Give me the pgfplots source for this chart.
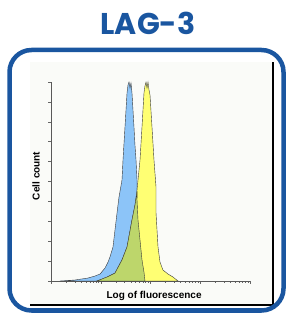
\documentclass[border=0pt]{standalone}
\usepackage{pgfplots}
\pgfplotsset{compat=1.18}
\usepackage{fontspec}
\setmainfont{Liberation Sans}
\newfontfamily\poppins{Poppins}
\definecolor{lagblue}{HTML}{1A56A0}
\definecolor{histblue}{HTML}{8CC4F8}
\definecolor{histyellow}{HTML}{FFFF73}
\definecolor{histgreen}{HTML}{BDD66B}
\definecolor{histline}{HTML}{3A3A3A}
\definecolor{panelbg}{HTML}{FAFBF8}
\begin{document}
\begin{tikzpicture}[x=1pt,y=1pt]
\path[use as bounding box] (0,0) rectangle (286,313);
% panel background
\fill[panelbg] (30,8) rectangle (273,251);
\draw[black, line width=1.4pt] (30,8) -- (274,8);
\draw[black, line width=1.2pt] (273,8) -- (273,251);
% title
\node[anchor=base, text=lagblue, font=\poppins\bfseries\fontsize{30}{30}\selectfont] at (148,278) {LAG-3};
\begin{axis}[
  at={(51pt,32pt)}, anchor=south west,
  scale only axis, width=199pt, height=199pt,
  xmin=0, xmax=4, ymin=0, ymax=100,
  axis x line*=bottom, axis y line*=left,
  axis line style={draw=black!65, line width=0.5pt, -},
  xtick={0,1,2,3,4},
  minor xtick={0.301,0.477,0.602,0.699,0.778,0.845,0.903,0.954,
               1.301,1.477,1.602,1.699,1.778,1.845,1.903,1.954,
               2.301,2.477,2.602,2.699,2.778,2.845,2.903,2.954,
               3.301,3.477,3.602,3.699,3.778,3.845,3.903,3.954},
  ytick={0,10,...,100},
  xticklabels={}, yticklabels={},
  tick align=outside,
  major tick length=3pt, minor tick length=2pt,
  tick style={draw=black!60, line width=0.4pt},
  xlabel={\bfseries Log of fluorescence},
  ylabel={\bfseries Cell count},
  label style={font=\fontsize{10}{12}\selectfont},
  xlabel style={at={(axis description cs:0.518,0)}, anchor=center, yshift=-15pt},
  ylabel style={at={(axis description cs:0,0.528)}, anchor=center, xshift=0pt, yshift=15pt},
  clip=false,
]
% isotype control (blue)
\addplot[fill=histblue, draw=histline, line width=0.4pt] coordinates {
(0.181,0) (0.482,0.5) (0.744,1.5) (0.884,2.5) (0.985,3.5) (1.085,6.5) (1.146,9.5)
(1.186,12.1) (1.246,17.1) (1.286,25.6) (1.327,34.2) (1.367,42.2) (1.427,50.8)
(1.447,60.8) (1.487,77.4) (1.528,94.5) (1.548,98.5) (1.568,100) (1.588,97.0)
(1.608,99.5) (1.628,94.5) (1.648,85.9) (1.668,77.4) (1.688,68.3) (1.709,60.8)
(1.729,50.8) (1.729,47.2) (1.729,40.7) (1.749,30.7) (1.789,20.6) (1.829,10.6)
(1.869,4.5) (1.889,0)
} -- cycle;
% LAG-3 stained (yellow)
\addplot[fill=histyellow, draw=histline, line width=0.4pt] coordinates {
(0.925,0) (1.126,2.0) (1.286,4.0) (1.427,10.6) (1.528,17.1) (1.628,30.7)
(1.688,38.2) (1.729,45.7) (1.749,50.8) (1.789,60.8) (1.829,77.4) (1.869,94.5)
(1.889,98.0) (1.910,100) (1.930,97.0) (1.950,100) (1.970,96.0) (1.990,93.5)
(2.030,77.4) (2.070,60.8) (2.111,47.2) (2.111,34.2) (2.131,25.6) (2.151,17.1)
(2.191,9.5) (2.251,5.5) (2.352,3.5) (2.452,2.0) (2.553,0)
} -- cycle;
% overlap (green)
\addplot[fill=histgreen, draw=histline, line width=0.4pt] coordinates {
(0.925,0) (1.126,2.0) (1.286,4.0) (1.427,10.6) (1.528,17.1) (1.628,30.7)
(1.688,38.2) (1.732,45.0) (1.729,40.7) (1.749,30.7) (1.789,20.6) (1.829,10.6)
(1.869,4.5) (1.889,0)
} -- cycle;
\end{axis}
% rounded frame
\draw[lagblue, line width=4.5pt, rounded corners=22pt] (9.5,2.5) rectangle (283.5,263);
\end{tikzpicture}
\end{document}
